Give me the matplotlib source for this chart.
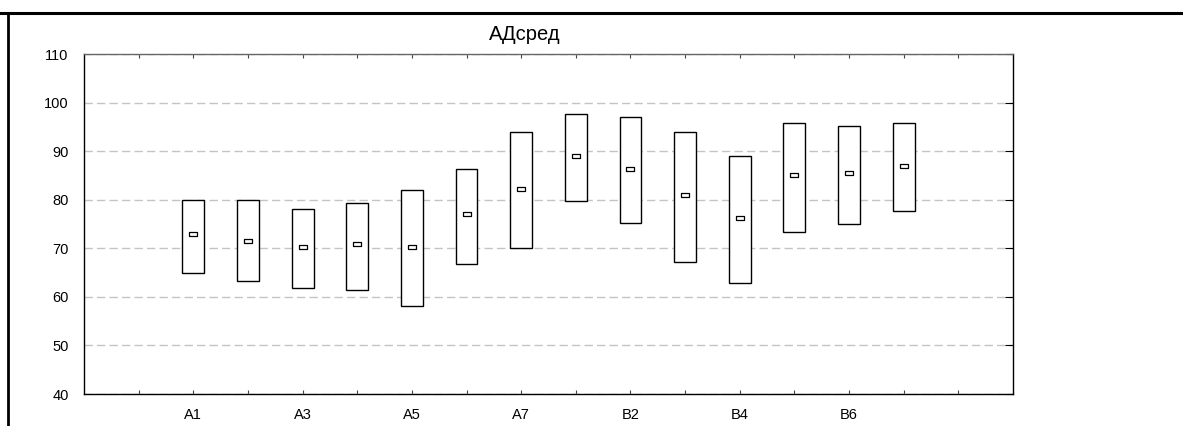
import matplotlib.pyplot as plt
from matplotlib.lines import Line2D

plt.rcParams['font.family'] = ['Liberation Sans', 'DejaVu Sans']

groups = ['A1', 'A2', 'A3', 'A4', 'A5', 'A6', 'A7',
          'B1', 'B2', 'B3', 'B4', 'B5', 'B6', 'B7']
low = [65.0, 63.3, 61.8, 61.5, 58.1, 66.7, 70.0,
       79.7, 75.3, 67.1, 62.9, 73.3, 75.0, 77.7]
high = [80.0, 79.9, 78.1, 79.3, 82.0, 86.4, 93.9,
        97.6, 97.0, 94.0, 89.1, 95.9, 95.1, 95.9]
mid = [72.9, 71.6, 70.3, 70.9, 70.3, 77.0, 82.3,
       89.0, 86.3, 81.0, 76.3, 85.0, 85.6, 86.9]

pos = list(range(2, 2 + len(groups)))

fig = plt.figure(figsize=(11.83, 4.26), dpi=100)
ax = fig.add_axes([0.071, 0.0751, 0.7853, 0.7981])

heights = [h - l for h, l in zip(high, low)]
ax.bar(pos, heights, bottom=low, width=0.4, facecolor='white',
       edgecolor='black', linewidth=1, zorder=3)

rect = [(-1, -0.45), (1, -0.45), (1, 0.45), (-1, 0.45), (-1, -0.45)]
ax.plot(pos, mid, linestyle='none', marker=rect, markersize=6,
        markerfacecolor='white', markeredgecolor='black',
        markeredgewidth=0.9, zorder=4)

ax.set_xlim(0, 17)
ax.set_ylim(40, 110)
ax.set_xticks(range(1, 17))
ax.set_xticklabels(['' if (p < 2 or p > 15 or (p - 2) % 2) else groups[p - 2]
                    for p in range(1, 17)], fontsize=10.5)
ax.set_yticks(range(40, 111, 10))
ax.tick_params(axis='y', left=False, right=True, direction='in', length=6,
               labelsize=10.5, pad=11)
ax.tick_params(axis='x', top=True, bottom=True, direction='in', length=3,
               pad=10, color='#444444')

ax.yaxis.grid(True, color='#c4c4c4', linestyle=(0, (6, 3)), linewidth=1)
ax.set_axisbelow(True)
for s in ax.spines.values():
    s.set_linewidth(1)
ax.spines['top'].set_color('#666666')

fig.text(525 / 1183, 1 - 34 / 426, 'АДсред', fontsize=14.5,
         ha='center', va='center')

fig.add_artist(Line2D([0, 1], [1 - 13 / 426] * 2, color='black', lw=2.2))
fig.add_artist(Line2D([8 / 1183] * 2, [0, 1 - 13 / 426], color='black', lw=2))

fig.savefig('out.png', dpi=100)
